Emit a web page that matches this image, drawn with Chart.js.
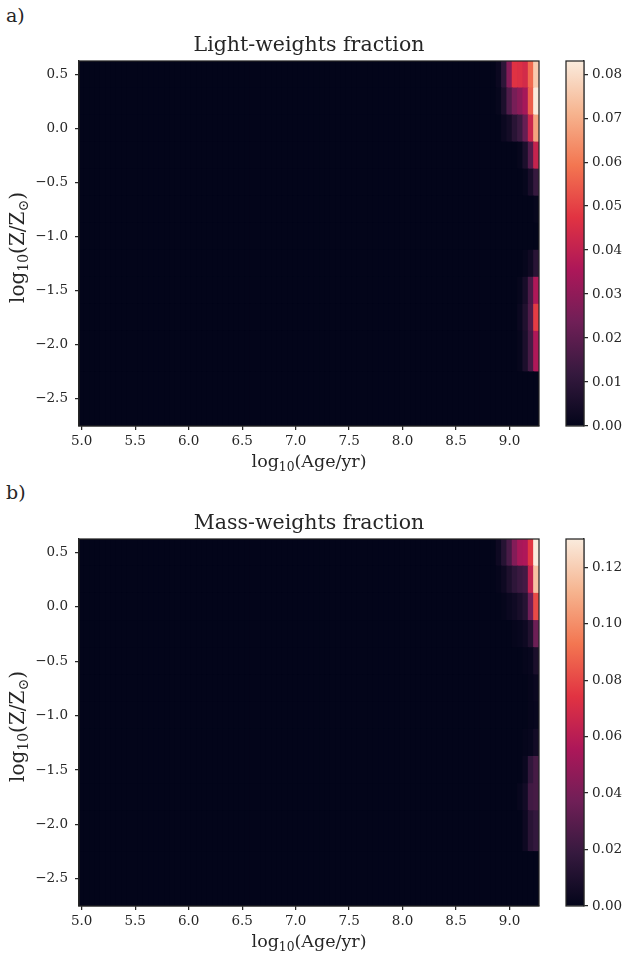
<!DOCTYPE html>
<html>
<head>
<meta charset="utf-8">
<script src="https://cdn.jsdelivr.net/npm/chart.js@4.4.0/dist/chart.umd.min.js"></script>
<style>
  body { margin: 0; background: #fff; }
  #page { position: relative; width: 633px; height: 963px; }
  canvas { position: absolute; }
  .tag { position: absolute; left: 6px; font: 19px "DejaVu Serif", serif; line-height: 22px; color: #262626; }
</style>
</head>
<body>
<div id="page">
  <div class="tag" style="top:4px">a)</div>
  <canvas id="lightMap" width="560" height="480" style="left:0;top:0"></canvas>
  <canvas id="lightBar" width="93" height="480" style="left:540px;top:0"></canvas>
  <div class="tag" style="top:481px">b)</div>
  <canvas id="massMap" width="560" height="482" style="left:0;top:478px"></canvas>
  <canvas id="massBar" width="93" height="482" style="left:540px;top:478px"></canvas>
</div>
<script>
// log10(Age/yr) bin centres, 0.05 dex apart
const AGE_BINS = [
  5.00, 5.05, 5.10, 5.15, 5.20, 5.25, 5.30, 5.35, 5.40, 5.45,
  5.50, 5.55, 5.60, 5.65, 5.70, 5.75, 5.80, 5.85, 5.90, 5.95,
  6.00, 6.05, 6.10, 6.15, 6.20, 6.25, 6.30, 6.35, 6.40, 6.45,
  6.50, 6.55, 6.60, 6.65, 6.70, 6.75, 6.80, 6.85, 6.90, 6.95,
  7.00, 7.05, 7.10, 7.15, 7.20, 7.25, 7.30, 7.35, 7.40, 7.45,
  7.50, 7.55, 7.60, 7.65, 7.70, 7.75, 7.80, 7.85, 7.90, 7.95,
  8.00, 8.05, 8.10, 8.15, 8.20, 8.25, 8.30, 8.35, 8.40, 8.45,
  8.50, 8.55, 8.60, 8.65, 8.70, 8.75, 8.80, 8.85, 8.90, 8.95,
  9.00, 9.05, 9.10, 9.15, 9.20, 9.25
];
const AGE_MIN = 4.975;
const AGE_MAX = 9.275;

// log10(Z/Zsun) row edges, top to bottom
const Z_EDGES = [0.625, 0.375, 0.125, -0.125, -0.375, -0.625, -0.875,
                 -1.125, -1.375, -1.625, -1.875, -2.25, -2.75];

// only the oldest ages carry weight; every younger bin is 0
const TAIL_AGES = [8.90, 8.95, 9.00, 9.05, 9.10, 9.15, 9.20, 9.25];

const LIGHT_TAIL = [
  [0.002, 0.010, 0.028, 0.047, 0.046, 0.044, 0.057, 0.076],
  [0.001, 0.006, 0.017, 0.025, 0.029, 0.034, 0.055, 0.083],
  [0.000, 0.002, 0.004, 0.009, 0.013, 0.022, 0.042, 0.068],
  [0.000, 0.000, 0.000, 0.000, 0.001, 0.006, 0.018, 0.041],
  [0.000, 0.000, 0.000, 0.000, 0.000, 0.001, 0.005, 0.012],
  [0.000, 0.000, 0.000, 0.000, 0.000, 0.000, 0.000, 0.001],
  [0.000, 0.000, 0.000, 0.000, 0.000, 0.000, 0.000, 0.000],
  [0.000, 0.000, 0.000, 0.000, 0.000, 0.001, 0.003, 0.009],
  [0.000, 0.000, 0.000, 0.000, 0.001, 0.005, 0.016, 0.036],
  [0.000, 0.000, 0.000, 0.000, 0.002, 0.007, 0.017, 0.049],
  [0.000, 0.000, 0.000, 0.000, 0.001, 0.006, 0.015, 0.036],
  [0.000, 0.000, 0.000, 0.000, 0.000, 0.000, 0.000, 0.000]
];

const MASS_TAIL = [
  [0.004, 0.013, 0.025, 0.043, 0.054, 0.056, 0.075, 0.130],
  [0.001, 0.004, 0.010, 0.016, 0.020, 0.023, 0.063, 0.116],
  [0.000, 0.001, 0.003, 0.005, 0.008, 0.013, 0.037, 0.081],
  [0.000, 0.000, 0.000, 0.001, 0.002, 0.004, 0.011, 0.036],
  [0.000, 0.000, 0.000, 0.000, 0.000, 0.001, 0.002, 0.009],
  [0.000, 0.000, 0.000, 0.000, 0.000, 0.000, 0.001, 0.003],
  [0.000, 0.000, 0.000, 0.000, 0.000, 0.000, 0.001, 0.002],
  [0.000, 0.000, 0.000, 0.000, 0.000, 0.001, 0.002, 0.006],
  [0.000, 0.000, 0.000, 0.000, 0.000, 0.003, 0.017, 0.024],
  [0.000, 0.000, 0.000, 0.000, 0.002, 0.006, 0.022, 0.024],
  [0.000, 0.000, 0.000, 0.000, 0.000, 0.004, 0.014, 0.018],
  [0.000, 0.000, 0.000, 0.000, 0.000, 0.000, 0.000, 0.000]
];

const X_TICKS = [5.0, 5.5, 6.0, 6.5, 7.0, 7.5, 8.0, 8.5, 9.0];
const Y_TICKS = [0.5, 0.0, -0.5, -1.0, -1.5, -2.0, -2.5];
const LIGHT_CBAR_TICKS = [0, 0.01, 0.02, 0.03, 0.04, 0.05, 0.06, 0.07, 0.08];
const MASS_CBAR_TICKS = [0, 0.02, 0.04, 0.06, 0.08, 0.10, 0.12];

// axis labels as runs of [text, isSubscript]
const X_LABEL = [['log', false], ['10', true], ['(Age/yr)', false]];
const Y_LABEL = [['log', false], ['10', true], ['(Z/Z', false], ['\u2299', true], [')', false]];

// seaborn "rocket" colormap stops
const ROCKET = [
  [0, '#03051a'], [1 / 7, '#35193e'], [2 / 7, '#701f57'], [3 / 7, '#ad1759'],
  [4 / 7, '#e13342'], [5 / 7, '#f37651'], [6 / 7, '#f6b48f'], [1, '#faebdd']
];

const INK = '#262626';
const FAMILY = '"DejaVu Serif", serif';
const TICK_FONT = { size: 13.5 };
const X_LABEL_SIZE = 17.5;
const Y_LABEL_SIZE = 20;
Chart.defaults.font.family = FAMILY;
Chart.defaults.color = INK;

function hexRgb(h) {
  return [1, 3, 5].map(i => parseInt(h.slice(i, i + 2), 16));
}

function rocket(t) {
  t = Math.min(Math.max(t, 0), 1);
  for (let i = 1; i < ROCKET.length; i++) {
    const [p1, c1] = ROCKET[i];
    if (t <= p1) {
      const [p0, c0] = ROCKET[i - 1];
      const f = (t - p0) / (p1 - p0);
      const a = hexRgb(c0), b = hexRgb(c1);
      return `rgb(${a.map((v, k) => Math.round(v + (b[k] - v) * f)).join(',')})`;
    }
  }
  return ROCKET[ROCKET.length - 1][1];
}

const minus = s => s.replace('-', '\u2212');

// spine around the plotting area
const frame = {
  id: 'frame',
  afterDraw(chart) {
    const { ctx, chartArea: a } = chart;
    ctx.save();
    ctx.strokeStyle = INK;
    ctx.lineWidth = 1.25;
    ctx.strokeRect(a.left, a.top, a.right - a.left, a.bottom - a.top);
    ctx.restore();
  }
};

// draws a label with subscripts, centred on (0, 0) in the current transform
function richText(ctx, runs, size) {
  const subSize = size * 0.7;
  const widths = runs.map(([t, sub]) => {
    ctx.font = `${sub ? subSize : size}px ${FAMILY}`;
    return ctx.measureText(t).width;
  });
  let x = -widths.reduce((s, w) => s + w, 0) / 2;
  ctx.textBaseline = 'alphabetic';
  ctx.textAlign = 'left';
  runs.forEach(([t, sub], i) => {
    ctx.font = `${sub ? subSize : size}px ${FAMILY}`;
    ctx.fillText(t, x, sub ? size * 0.22 : 0);
    x += widths[i];
  });
}

const axisLabels = {
  id: 'axisLabels',
  afterDraw(chart) {
    const { ctx, chartArea: a } = chart;
    ctx.save();
    ctx.fillStyle = INK;
    ctx.translate((a.left + a.right) / 2, a.bottom + 41);
    richText(ctx, X_LABEL, X_LABEL_SIZE);
    ctx.restore();
    ctx.save();
    ctx.fillStyle = INK;
    ctx.translate(24, (a.top + a.bottom) / 2 + 4);
    ctx.rotate(-Math.PI / 2);
    richText(ctx, Y_LABEL, Y_LABEL_SIZE);
    ctx.restore();
  }
};

function heatmap(id, title, tail) {
  const vmax = Math.max(...tail.flat());
  const cells = [];
  const colors = [];
  for (let r = 0; r < Z_EDGES.length - 1; r++) {
    AGE_BINS.forEach(age => {
      const k = TAIL_AGES.indexOf(age);
      const v = k < 0 ? 0 : tail[r][k];
      cells.push({ x: age, y: [Z_EDGES[r + 1], Z_EDGES[r]] });
      colors.push(rocket(v / vmax));
    });
  }

  new Chart(document.getElementById(id), {
    type: 'bar',
    data: {
      datasets: [{
        data: cells,
        backgroundColor: colors,
        borderWidth: 0,
        inflateAmount: 0.5,
        barPercentage: 1,
        categoryPercentage: 1
      }]
    },
    options: {
      responsive: false,
      animation: false,
      layout: { padding: { top: 0, right: 21, bottom: 0, left: 0 } },
      plugins: {
        legend: { display: false },
        tooltip: { enabled: false },
        title: {
          display: true,
          text: title,
          fullSize: false,
          color: INK,
          font: { size: 20.5, weight: 'normal', lineHeight: '24px' },
          padding: { top: 34, bottom: 3 }
        }
      },
      scales: {
        x: {
          type: 'linear',
          offset: false,
          min: AGE_MIN,
          max: AGE_MAX,
          afterBuildTicks: s => { s.ticks = X_TICKS.map(value => ({ value })); },
          afterFit: s => { s.height = 54; },
          ticks: { callback: v => v.toFixed(1), autoSkip: false, maxRotation: 0, padding: 3, font: TICK_FONT },
          grid: { offset: false, drawOnChartArea: false, tickLength: 4, color: INK, lineWidth: 1.25 },
          border: { color: INK, width: 1.25 }
        },
        y: {
          type: 'linear',
          min: Z_EDGES[Z_EDGES.length - 1],
          max: Z_EDGES[0],
          afterBuildTicks: s => { s.ticks = Y_TICKS.map(value => ({ value })); },
          afterFit: s => { s.width = 79; },
          ticks: { callback: v => minus(v.toFixed(1)), padding: 7, font: TICK_FONT },
          grid: { drawOnChartArea: false, tickLength: 4, color: INK, lineWidth: 1.25 },
          border: { color: INK, width: 1.25 }
        }
      }
    },
    plugins: [frame, axisLabels]
  });
  return vmax;
}

function colorbar(id, vmax, ticks) {
  new Chart(document.getElementById(id), {
    type: 'bar',
    data: {
      labels: [''],
      datasets: [{
        data: [[0, vmax]],
        borderWidth: 0,
        barPercentage: 1,
        categoryPercentage: 1,
        backgroundColor: c => {
          const area = c.chart.chartArea;
          if (!area) return ROCKET[0][1];
          const g = c.chart.ctx.createLinearGradient(0, area.bottom, 0, area.top);
          ROCKET.forEach(([p, col]) => g.addColorStop(p, col));
          return g;
        }
      }]
    },
    options: {
      responsive: false,
      animation: false,
      layout: { padding: { top: 61, right: 0, bottom: 54, left: 26 } },
      plugins: { legend: { display: false }, tooltip: { enabled: false } },
      scales: {
        x: { display: false },
        y: {
          position: 'right',
          min: 0,
          max: vmax,
          afterBuildTicks: s => { s.ticks = ticks.map(value => ({ value })); },
          afterFit: s => { s.width = 49; },
          ticks: { callback: v => v.toFixed(2), padding: 4, font: TICK_FONT },
          grid: { drawOnChartArea: false, tickLength: 4, color: INK, lineWidth: 1.25 },
          border: { color: INK, width: 1.25 }
        }
      }
    },
    plugins: [frame]
  });
}

const lightMax = heatmap('lightMap', 'Light-weights fraction', LIGHT_TAIL);
colorbar('lightBar', lightMax, LIGHT_CBAR_TICKS);
const massMax = heatmap('massMap', 'Mass-weights fraction', MASS_TAIL);
colorbar('massBar', massMax, MASS_CBAR_TICKS);
</script>
</body>
</html>
